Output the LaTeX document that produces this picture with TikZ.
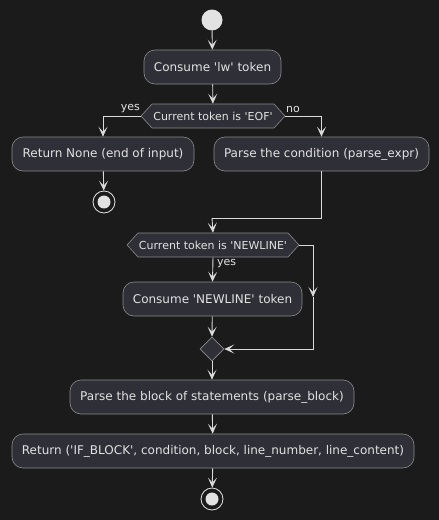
\documentclass[tikz,border=0pt]{standalone}
\usepackage{fontspec}
\setmainfont{DejaVu Sans}
\usetikzlibrary{arrows.meta,shapes.geometric,shapes.symbols}
\definecolor{bg}{HTML}{1B1B1C}
\definecolor{boxfill}{HTML}{2F2F37}
\definecolor{boxline}{HTML}{8A8A8A}
\definecolor{txt}{HTML}{E2E2E2}
\definecolor{ln}{HTML}{DADADA}
\newcommand{\sq}{\textquotesingle}
\tikzset{
  act/.style={draw=boxline, fill=boxfill, rounded corners=11pt, text=txt, font=\fontsize{12pt}{14pt}\selectfont, minimum height=34pt, inner sep=0pt, line width=0.6pt},
  cond/.style={draw=boxline, fill=boxfill, shape=signal, signal to=west and east, signal pointer angle=95, text=txt, font=\fontsize{11pt}{13pt}\selectfont, minimum height=24pt, inner sep=0pt, line width=0.6pt},
  merge/.style={draw=boxline, fill=boxfill, diamond, minimum width=24pt, minimum height=24pt, inner sep=0pt, line width=0.6pt},
  flow/.style={draw=ln, line width=0.9pt, -{Stealth[length=10pt, width=9pt, inset=5pt]}},
  plain/.style={draw=ln, line width=0.9pt},
  lbl/.style={text=txt, font=\fontsize{11pt}{13pt}\selectfont, inner sep=0pt},
}
\begin{document}
\begin{tikzpicture}[x=1pt, y=-1pt]
\useasboundingbox[fill=bg] (0,0) rectangle (439,520);
\node[circle, fill=txt, minimum size=21pt, inner sep=0pt] (start) at (212,20) {};
\node[act, minimum width=137pt] (c1) at (212.5,67) {Consume \sq lw\sq{} token};
\node[cond, minimum width=144pt] (d1) at (213,116) {Current token is \sq EOF\sq};
\node[act, minimum width=182pt] (ret) at (103,154) {Return None (end of input)};
\node[act, minimum width=215pt] (pc) at (321.5,154) {Parse the condition (parse\_expr)};
\node[circle, draw=txt, line width=0.8pt, minimum size=22pt, inner sep=0pt] (stop1) at (104,202) {};
\node[circle, fill=txt, minimum size=13pt, inner sep=0pt] at (stop1) {};
\coordinate (j1) at (212,218);
\node[cond, minimum width=172pt] (d2) at (213,245) {Current token is \sq NEWLINE\sq};
\node[act, minimum width=179pt] (cn) at (212.5,299) {Consume \sq NEWLINE\sq{} token};
\node[merge] (m) at (212,349) {};
\node[act, minimum width=284pt] (pb) at (212,397) {Parse the block of statements (parse\_block)};
\node[act, minimum width=402pt] (rb) at (213,451) {Return (\sq IF\_BLOCK\sq, condition, block, line\_number, line\_content)};
\node[circle, draw=txt, line width=0.8pt, minimum size=22pt, inner sep=0pt] (stop2) at (212,499) {};
\node[circle, fill=txt, minimum size=13pt, inner sep=0pt] at (stop2) {};
\coordinate (rmid) at (313,297);

\draw[flow] (start) -- (c1);
\draw[flow] (c1) -- (d1);
\draw[flow] (d1.west) -| (ret.north);
\draw[flow] (d1.east) -| (pc.north);
\node[lbl, anchor=south east] (yes1) at (140,113) {yes};
\node[lbl, anchor=south west] (no1) at (286,113) {no};
\draw[flow] (ret) -- (stop1);
\draw[plain] (pc.south) |- (j1);
\draw[flow] (j1) -- (d2.north);
\draw[flow] (d2.south) -- (cn.north);
\node[lbl, anchor=west] (yes2) at (217,264) {yes};
\draw[flow] (d2.east) -| (rmid);
\draw[flow] (rmid) |- (m.east);
\draw[flow] (cn) -- (m.north);
\draw[flow] (m.south) -- (pb.north);
\draw[flow] (pb) -- (rb);
\draw[flow] (rb) -- (stop2);
\end{tikzpicture}
\end{document}
